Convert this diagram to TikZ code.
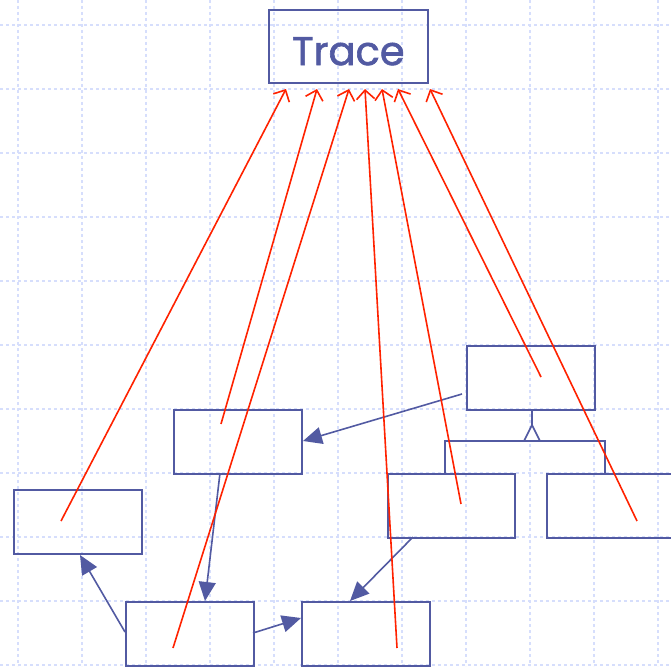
\documentclass[tikz,border=0pt]{standalone}
\usepackage{fontspec}
\newfontfamily\traceface[FakeBold=1.5]{Poppins}
\usetikzlibrary{arrows.meta}
\definecolor{umlblue}{RGB}{82,90,162}
\definecolor{gridblue}{RGB}{214,222,252}
\definecolor{tracered}{RGB}{255,34,0}
\tikzset{
  cls/.style={draw=umlblue, line width=1.6pt, minimum width=128pt, minimum height=64pt, inner sep=0pt, anchor=north west},
  assoc/.style={draw=umlblue, line width=1.6pt, -{Triangle[length=19pt,width=17pt]}},
  traceln/.style={draw=tracered, line width=1.6pt, -{Straight Barb[length=9pt,width=18pt,line width=1.6pt]}},
  gridln/.style={draw=gridblue, line width=1.1pt, dash pattern=on 3pt off 3pt}
}
\begin{document}
\begin{tikzpicture}[x=1pt,y=-1pt]
\useasboundingbox (0,0) rectangle (671,666);
\clip (0,0) rectangle (671,666);
% grid
\foreach \gx in {18,82,...,658} {\draw[gridln] (\gx,0) -- (\gx,666);}
\foreach \gy in {25,89,...,665} {\draw[gridln] (0,\gy) -- (671,\gy);}
% boxes
\node[cls, minimum width=159pt, minimum height=73pt] (trace) at (268,9)
  {\raisebox{-5pt}[\height][\depth]{\traceface\color{umlblue}\fontsize{40pt}{44pt}\selectfont Trace}};
\node[cls] (a) at (13,489) {};
\node[cls] (b) at (173,409) {};
\node[cls] (c) at (466,345) {};
\node[cls, minimum width=127pt] (d) at (387,473) {};
\node[cls] (e) at (546,473) {};
\node[cls] (f) at (125,601) {};
\node[cls] (g) at (301,601) {};
% inheritance
\coordinate (apex) at (532,425);
\coordinate (lbar) at (445,441);
\coordinate (rbar) at (605,441);
\draw[umlblue, line width=1.6pt] (c.south -| apex) -- (apex);
\draw[umlblue, line width=1.6pt, fill=white] (apex) -- (540,441) -- (524,441) -- cycle;
\draw[umlblue, line width=1.6pt] (d.north -| lbar) -- (lbar) -- (rbar) -- (e.north -| rbar);
% associations
\coordinate (cstart) at (462,394);
\draw[assoc] (cstart) -- (303,441);
\draw[assoc] (220,473) -- (205,601);
\draw[assoc] (125,632) -- (80,555);
\draw[assoc] (253,633) -- (301,618);
\draw[assoc] (413,537) -- (350,601);
% trace links
\coordinate (t1) at (286,89);
\coordinate (t2) at (317,89);
\coordinate (t3) at (349,89);
\coordinate (t4) at (365,89);
\coordinate (t5) at (382,89);
\coordinate (t6) at (398,89);
\coordinate (t7) at (430,89);
\coordinate (s1) at (61,521);
\coordinate (s2) at (221,424);
\coordinate (s3) at (173,648);
\coordinate (s4) at (397,648);
\coordinate (s5) at (461,504);
\coordinate (s6) at (541,377);
\coordinate (s7) at (637,521);
\draw[traceln] (s1) -- (t1);
\draw[traceln] (s2) -- (t2);
\draw[traceln] (s3) -- (t3);
\draw[traceln] (s4) -- (t4);
\draw[traceln] (s5) -- (t5);
\draw[traceln] (s6) -- (t6);
\draw[traceln] (s7) -- (t7);
\end{tikzpicture}
\end{document}
